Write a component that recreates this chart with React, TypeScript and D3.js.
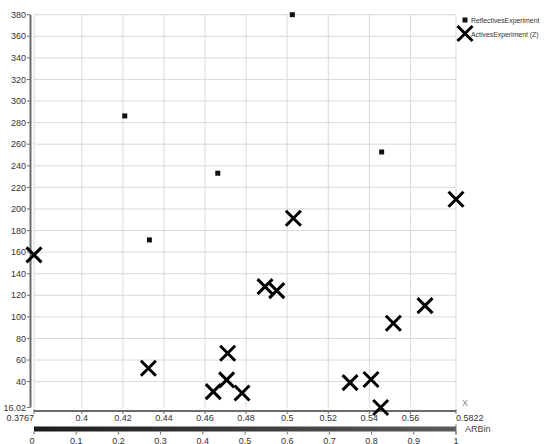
import React from "react";
import * as d3 from "d3";

// values
const reflectiveX = [0.4209, 0.4329, 0.4662, 0.5025, 0.546];
const reflectiveY = [286.2, 171.3, 233.1, 380, 252.8];

const activeX = [0.3767, 0.4324, 0.464, 0.4705, 0.471, 0.478, 0.4892, 0.4949, 0.503, 0.5306, 0.5408, 0.5455, 0.5517, 0.5671, 0.5822];
const activeY = [157.4, 52.4, 30.7, 41.6, 66.3, 29.5, 128, 124.3, 191.4, 39.1, 42, 16.02, 94.1, 110.4, 209];

const xDomain = [0.3767, 0.5822];
const yDomain = [16.02, 380];
const xTicks = [0.4, 0.42, 0.44, 0.46, 0.48, 0.5, 0.52, 0.54, 0.56];
const yTicks = [40, 60, 80, 100, 120, 140, 160, 180, 200, 220, 240, 260, 280, 300, 320, 340, 360, 380];
const barTicks = [0, 0.1, 0.2, 0.3, 0.4, 0.5, 0.6, 0.7, 0.8, 0.9, 1];

const legendNames = ["ReflectivesExperiment", "ActivesExperiment (Z)"];

const W = 544;
const H = 444;
const font = "'Liberation Sans', Arial, sans-serif";

export default function App() {
  const left = 34, right = 456, top = 14.7, bottom = 407.5;
  const x = d3.scaleLinear().domain(xDomain).range([left, right]);
  const y = d3.scaleLinear().domain(yDomain).range([bottom, top]);
  const bar = d3.scaleLinear().domain([0, 1]).range([left, right]);

  const axisX = 411; // x axis sits a bit below the plot
  const barTop = 426.5, barH = 5;
  const xs = 7.5; // half size of the cross marker

  return (
    <svg width={W} height={H} style={{ position: "absolute", left: 0, top: 0, background: "#fff" }}
      fontFamily={font}>
      <defs>
        <linearGradient id="arb" x1="0" x2="1" y1="0" y2="0">
          <stop offset="0" stopColor="#1c1c1c" />
          <stop offset="1" stopColor="#5c5c5c" />
        </linearGradient>
      </defs>

      {/* grid */}
      <g stroke="#d9d9d9" strokeWidth={1}>
        {yTicks.map(t => (
          <line key={"gy" + t} x1={left} x2={right} y1={y(t)} y2={y(t)} />
        ))}
        {xTicks.map(t => (
          <line key={"gx" + t} x1={x(t)} x2={x(t)} y1={top} y2={bottom} />
        ))}
        <line x1={left} x2={left} y1={top} y2={bottom} />
        <line x1={right} x2={right} y1={top} y2={bottom} />
      </g>

      {/* y axis */}
      <line x1={30.5} x2={30.5} y1={top} y2={bottom} stroke="#6b6b6b" strokeWidth={2} />
      <g fontSize={9} fill="#333" textAnchor="end">
        {yTicks.concat([yDomain[0]]).map(t => (
          <g key={"yt" + t}>
            <line x1={27} x2={30} y1={y(t)} y2={y(t)} stroke="#6b6b6b" />
            <text x={26} y={y(t)} dy="0.35em">{t === yDomain[0] ? "16.02" : t}</text>
          </g>
        ))}
      </g>

      {/* x axis */}
      <line x1={left} x2={right} y1={axisX} y2={axisX} stroke="#6b6b6b" strokeWidth={2} />
      <g fontSize={9} fill="#333" textAnchor="middle">
        {xTicks.map(t => (
          <g key={"xt" + t}>
            <line x1={x(t)} x2={x(t)} y1={axisX} y2={axisX + 3} stroke="#6b6b6b" />
            <text x={x(t)} y={axisX + 10}>{t}</text>
          </g>
        ))}
        <line x1={left} x2={left} y1={axisX - 2} y2={axisX + 3} stroke="#6b6b6b" />
        <line x1={right} x2={right} y1={axisX - 2} y2={axisX + 3} stroke="#6b6b6b" />
        <text x={left} y={axisX + 10} textAnchor="end">{xDomain[0]}</text>
        <text x={right} y={axisX + 10} textAnchor="start">{xDomain[1]}</text>
      </g>
      <text x={462} y={406} fontSize={9} fill="#8a8a8a">X</text>

      {/* colour bar */}
      <rect x={left} y={barTop} width={right - left} height={barH} fill="url(#arb)" />
      <line x1={right} x2={right} y1={barTop - 2} y2={barTop + barH + 3} stroke="#6b6b6b" />
      <g fontSize={9} fill="#333" textAnchor="middle">
        {barTicks.map(t => (
          <g key={"bt" + t}>
            <line x1={bar(t)} x2={bar(t)} y1={barTop + barH} y2={barTop + barH + 3} stroke="#6b6b6b" />
            <text x={bar(t) - (t === 0 ? 2 : 0)} y={barTop + barH + 12}>{t}</text>
          </g>
        ))}
      </g>
      <text x={465} y={432} fontSize={9} fill="#444">ARBin</text>

      {/* reflectives */}
      <g fill="#111">
        {reflectiveX.map((d, i) => (
          <rect key={"r" + i} x={x(d) - 2.5} y={y(reflectiveY[i]) - 2.5} width={5} height={5} />
        ))}
      </g>

      {/* actives */}
      <g stroke="#000" strokeWidth={3}>
        {activeX.map((d, i) => {
          const cx = x(d), cy = y(activeY[i]);
          return (
            <path key={"a" + i} d={`M${cx - xs},${cy - xs}L${cx + xs},${cy + xs}M${cx - xs},${cy + xs}L${cx + xs},${cy - xs}`} />
          );
        })}
      </g>

      {/* legend */}
      <rect x={462.5} y={17.5} width={5} height={5} fill="#111" />
      <g transform="translate(471,23) scale(0.86,1)">
        <text fontSize={8} fill="#333">{legendNames[0]}</text>
      </g>
      <path d={`M${465 - xs},${33.5 - xs}L${465 + xs},${33.5 + xs}M${465 - xs},${33.5 + xs}L${465 + xs},${33.5 - xs}`}
        stroke="#000" strokeWidth={3} />
      <g transform="translate(471,36.5) scale(0.86,1)">
        <text fontSize={8} fill="#333">{legendNames[1]}</text>
      </g>
    </svg>
  );
}
